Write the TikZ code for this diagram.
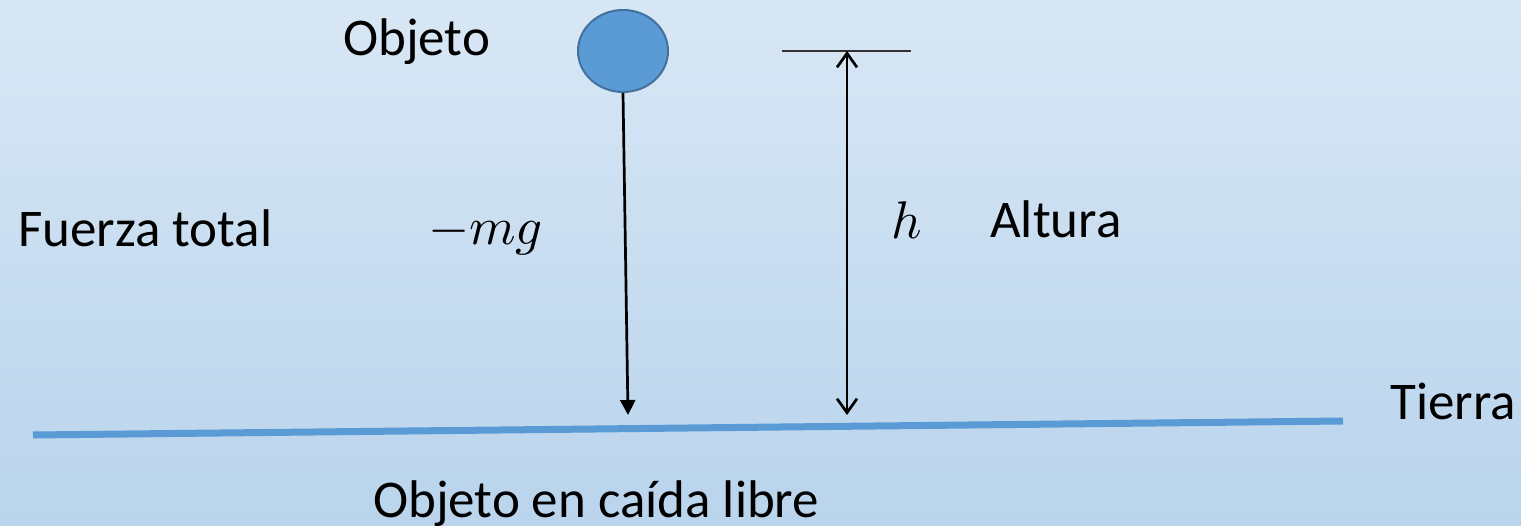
\documentclass[tikz,border=0pt]{standalone}
\usepackage{graphicx}
\usepackage{fontspec}
\setmainfont{Carlito}
\usetikzlibrary{arrows.meta,shapes.geometric}
\definecolor{bgtop}{HTML}{D8E7F5}
\definecolor{bgbot}{HTML}{B9D4EC}
\definecolor{ballfill}{HTML}{5B9BD5}
\definecolor{balledge}{HTML}{41719C}
\definecolor{ground}{HTML}{5B9BD5}
\tikzset{
  lbl/.style={inner sep=0pt, anchor=base west, font=\fontsize{53}{60}\selectfont},
  mlbl/.style={inner sep=0pt, anchor=base west, font=\fontsize{10}{12}\selectfont},
  vec/.style={line width=2.7pt, black},
}
\begin{document}
\begin{tikzpicture}[x=1pt,y=-1pt]
\shade[top color=bgtop, bottom color=bgbot] (0,0) rectangle (1521,526);
\useasboundingbox (0,0) rectangle (1521,526);
% object
\node (ball) [ellipse, minimum width=90pt, minimum height=82pt, inner sep=0pt, fill=ballfill, draw=balledge, line width=2pt] at (623,51) {};
% force arrow
\coordinate (ftip) at (628,415);
\draw[vec, -{Triangle[length=15pt,width=15pt]}] (ball.south) -- (ftip);
% height
\coordinate (tl) at (782,51);
\coordinate (tr) at (911,51);
\draw[line width=1.4pt, black!80] (tl) -- (tr);
\coordinate (htop) at (847,51);
\coordinate (hbot) at (847,415);
\draw[vec, {Straight Barb[length=14pt,width=20pt,line width=2.7pt]}-{Straight Barb[length=14pt,width=20pt,line width=2.7pt]}] (htop) -- (hbot);
% ground
\coordinate (g1) at (33,435);
\coordinate (g2) at (1343,421);
\draw[ground, line width=7pt] (g1) -- (g2);
% labels
\node[lbl] (obj) at (343,56) {Objeto};
\node[lbl] (ft) at (18,247) {Fuerza total};
\node[mlbl] (mg) at (428,245) {\scalebox{5.3}{$-mg$}};
\node[mlbl] (h) at (891,239) {\scalebox{5.3}{$h$}};
\node[lbl] (alt) at (990,238) {Altura};
\node[lbl] (tie) at (1390,420) {Tierra};
\node[lbl] (cap) at (373,517) {Objeto en caída libre};
\end{tikzpicture}
\end{document}
